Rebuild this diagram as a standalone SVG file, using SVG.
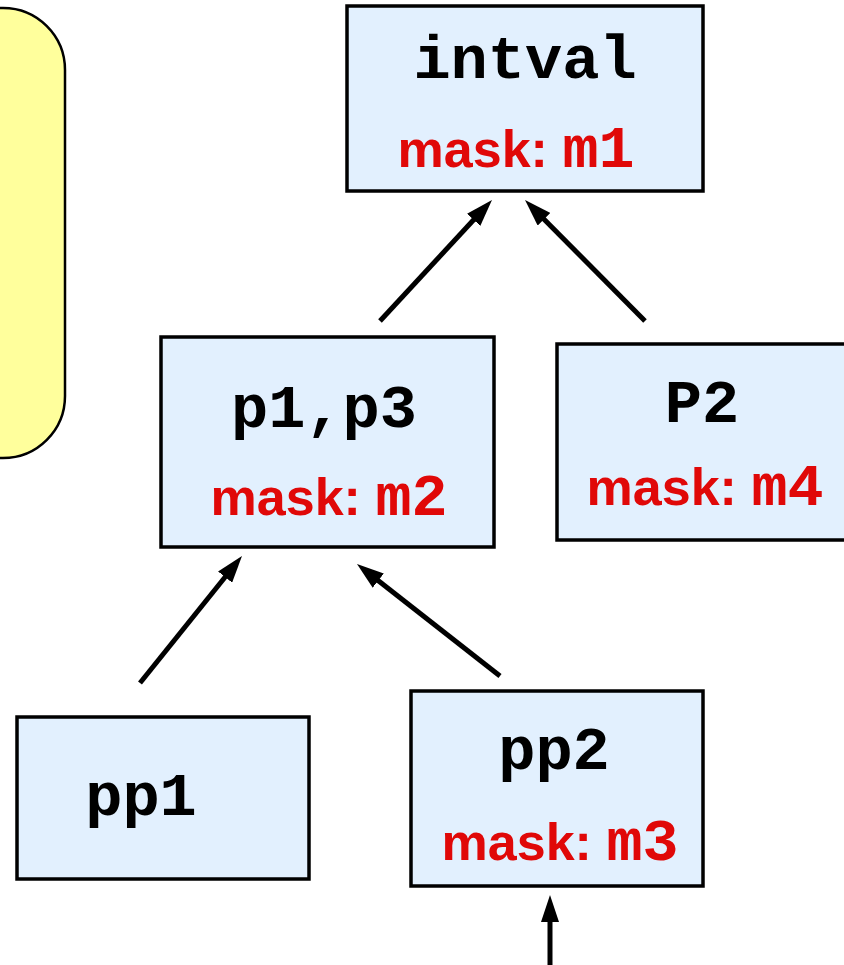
<svg xmlns="http://www.w3.org/2000/svg" width="844" height="965" viewBox="0 0 844 965">
<defs>
<marker id="ah" markerUnits="userSpaceOnUse" viewBox="0 0 27 18" markerWidth="27" markerHeight="18" refX="12" refY="9" orient="auto">
<path d="M0,0 L27,9 L0,18 Z" fill="#000"/>
</marker>
<style>
.box{fill:#E2F0FE;stroke:#000;stroke-width:3.5}
.code{font-family:"Liberation Mono","Courier New",monospace;font-weight:bold;font-size:62px;fill:#000}
.mask{font-family:"Liberation Sans",Arial,sans-serif;font-weight:bold;font-size:52px;fill:#E00808}
.mm{font-family:"Liberation Mono","Courier New",monospace;font-size:60px}
.conn line{stroke:#000;stroke-width:5;marker-end:url(#ah)}
</style>
</defs>
<rect width="844" height="965" fill="#fff"/>
<g id="note">
<rect x="-80" y="8" width="145" height="450" rx="62" ry="62" fill="#FFFF9C" stroke="#000" stroke-width="2.5"/>
</g>
<g id="intval">
<rect class="box" x="347" y="6" width="356" height="185"/>
<text class="code" x="525" y="78" text-anchor="middle">intval</text>
<text class="mask" x="516" y="167" text-anchor="middle">mask: <tspan class="mm">m1</tspan></text>
</g>
<g id="p1p3">
<rect class="box" x="161" y="337" width="333" height="210"/>
<text class="code" x="324" y="427" text-anchor="middle">p1,p3</text>
<text class="mask" x="329" y="515" text-anchor="middle">mask: <tspan class="mm">m2</tspan></text>
</g>
<g id="P2">
<rect class="box" x="557" y="344" width="290" height="196"/>
<text class="code" x="702" y="422" text-anchor="middle">P2</text>
<text class="mask" x="705" y="505" text-anchor="middle">mask: <tspan class="mm">m4</tspan></text>
</g>
<g id="pp1">
<rect class="box" x="17" y="717" width="292" height="162"/>
<text class="code" x="141" y="815" text-anchor="middle">pp1</text>
</g>
<g id="pp2">
<rect class="box" x="411" y="691" width="292" height="195"/>
<text class="code" x="554" y="769" text-anchor="middle">pp2</text>
<text class="mask" x="560" y="860" text-anchor="middle">mask: <tspan class="mm">m3</tspan></text>
</g>
<g id="connectors" class="conn">
<line x1="380" y1="321" x2="481.8" y2="211"/>
<line x1="645" y1="321" x2="535.6" y2="210.7"/>
<line x1="140" y1="683" x2="232.6" y2="567.7"/>
<line x1="500" y1="676" x2="368.8" y2="573.3"/>
<line x1="550" y1="965" x2="550" y2="910"/>
</g>
</svg>
